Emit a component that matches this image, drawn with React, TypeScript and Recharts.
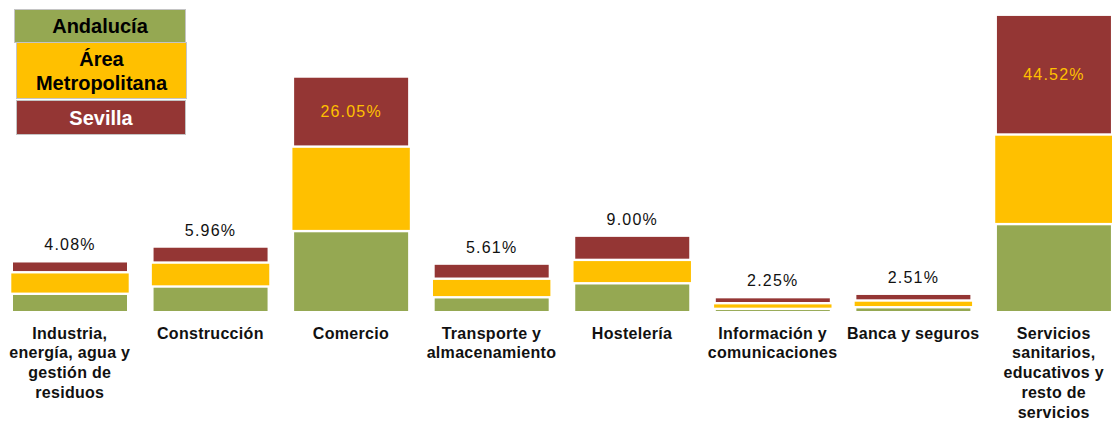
import { BarChart, Bar, XAxis, YAxis, LabelList } from "recharts";

// sector labels, one entry per line as printed under each bar
const categoryLines = [
  ["Industria,", "energía, agua y", "gestión de", "residuos"],
  ["Construcción"],
  ["Comercio"],
  ["Transporte y", "almacenamiento"],
  ["Hostelería"],
  ["Información y", "comunicaciones"],
  ["Banca y seguros"],
  ["Servicios", "sanitarios,", "educativos y", "resto de", "servicios"],
];

// % por territorio (Andalucía y Área, Sevilla rotulado)
const andalucia = [6.4, 9.1, 29.7, 5.1, 10.3, 0.8, 1.4, 32.3];
const areaMetropolitana = [8.0, 8.9, 31.4, 6.9, 8.7, 2.1, 2.5, 33.3];
const sevilla = [4.08, 5.96, 26.05, 5.61, 9.0, 2.25, 2.51, 44.52];

const seriesNames = ["Andalucía", "Área Metropolitana", "Sevilla"];

const GREEN = "#95a852";
const YELLOW = "#ffc000";
const RED = "#943634";
const FONT = '"Liberation Sans", Arial, Helvetica, sans-serif';

const data = categoryLines.map((lines, i) => ({
  name: lines.join(" "),
  andalucia: andalucia[i],
  area: areaMetropolitana[i],
  sevilla: sevilla[i],
}));

const linesByName: Record<string, string[]> = {};
categoryLines.forEach((l) => (linesByName[l.join(" ")] = l));

// segment drawn with a white gap above/below; the yellow one sticks out a bit
function Segment(props: any) {
  const { x, y, width, height, fill, grow = -0.5, bottom = false } = props;
  if (!height || height <= 0) return null;
  const top = y + 1.2;
  const h = Math.max(0.6, height - (bottom ? 1.2 : 2.4));
  return <rect x={x - grow} y={top} width={width + grow * 2} height={h} fill={fill} />;
}

function CategoryTick({ x, y, payload }: any) {
  const lines = linesByName[payload.value] || [payload.value];
  return (
    <text
      x={x}
      y={y + 27.5}
      textAnchor="middle"
      fontFamily={FONT}
      fontWeight="bold"
      fontSize={16}
      letterSpacing={0.3}
      fill="#111"
    >
      {lines.map((l, i) => (
        <tspan key={i} x={x} dy={i === 0 ? 0 : 19.8}>
          {l}
        </tspan>
      ))}
    </text>
  );
}

function ValueLabel(props: any) {
  const { x, y, width, height, value } = props;
  const v = Number(value);
  const cx = x + width / 2;
  const inside = v > 20;
  return (
    <text
      x={cx}
      y={inside ? y + height / 2 + 5.5 : y - 11}
      textAnchor="middle"
      fontFamily={FONT}
      fontSize={16}
      letterSpacing={1.2}
      fill={inside ? YELLOW : "#111"}
    >
      {v.toFixed(2)}%
    </text>
  );
}

function LegendBoxes() {
  const box = {
    position: "absolute" as const,
    boxSizing: "border-box" as const,
    border: "1px solid #c4c4c4",
    display: "flex",
    flexDirection: "column" as const,
    alignItems: "center",
    justifyContent: "center",
    fontFamily: FONT,
    fontWeight: "bold" as const,
    fontSize: 20,
    lineHeight: "24px",
    textAlign: "center" as const,
  };
  const [a, m, s] = seriesNames;
  const [w1, w2] = m.split(" ");
  return (
    <>
      <div style={{ ...box, left: 14, top: 9, width: 172, height: 34, background: GREEN, color: "#000" }}>{a}</div>
      <div style={{ ...box, left: 16, top: 42, width: 171, height: 57, background: YELLOW, color: "#000" }}>
        <span>{w1}</span>
        <span>{w2}</span>
      </div>
      <div style={{ ...box, left: 16, top: 100, width: 170, height: 35, background: RED, color: "#fff" }}>{s}</div>
    </>
  );
}

export default function App() {
  return (
    <div
      style={{
        position: "absolute",
        left: 0,
        top: 0,
        width: 1112,
        height: 421,
        overflow: "hidden",
        background: "#fff",
      }}
    >
      <BarChart
        width={1124}
        height={421}
        data={data}
        margin={{ top: 1.6, right: 0, left: -0.5, bottom: 0 }}
        barSize={115}
      >
        <XAxis
          dataKey="name"
          axisLine={false}
          tickLine={false}
          tickSize={0}
          tickMargin={0}
          height={110}
          interval={0}
          tick={<CategoryTick />}
        />
        <YAxis hide domain={[0, 115]} />
        <Bar
          dataKey="andalucia"
          name={seriesNames[0]}
          stackId="t"
          fill={GREEN}
          isAnimationActive={false}
          shape={(p: any) => <Segment {...p} bottom />}
        />
        <Bar
          dataKey="area"
          name={seriesNames[1]}
          stackId="t"
          fill={YELLOW}
          isAnimationActive={false}
          shape={(p: any) => <Segment {...p} grow={1.2} />}
        />
        <Bar
          dataKey="sevilla"
          name={seriesNames[2]}
          stackId="t"
          fill={RED}
          isAnimationActive={false}
          shape={(p: any) => <Segment {...p} />}
        >
          <LabelList dataKey="sevilla" content={<ValueLabel />} />
        </Bar>
      </BarChart>
      <LegendBoxes />
    </div>
  );
}
